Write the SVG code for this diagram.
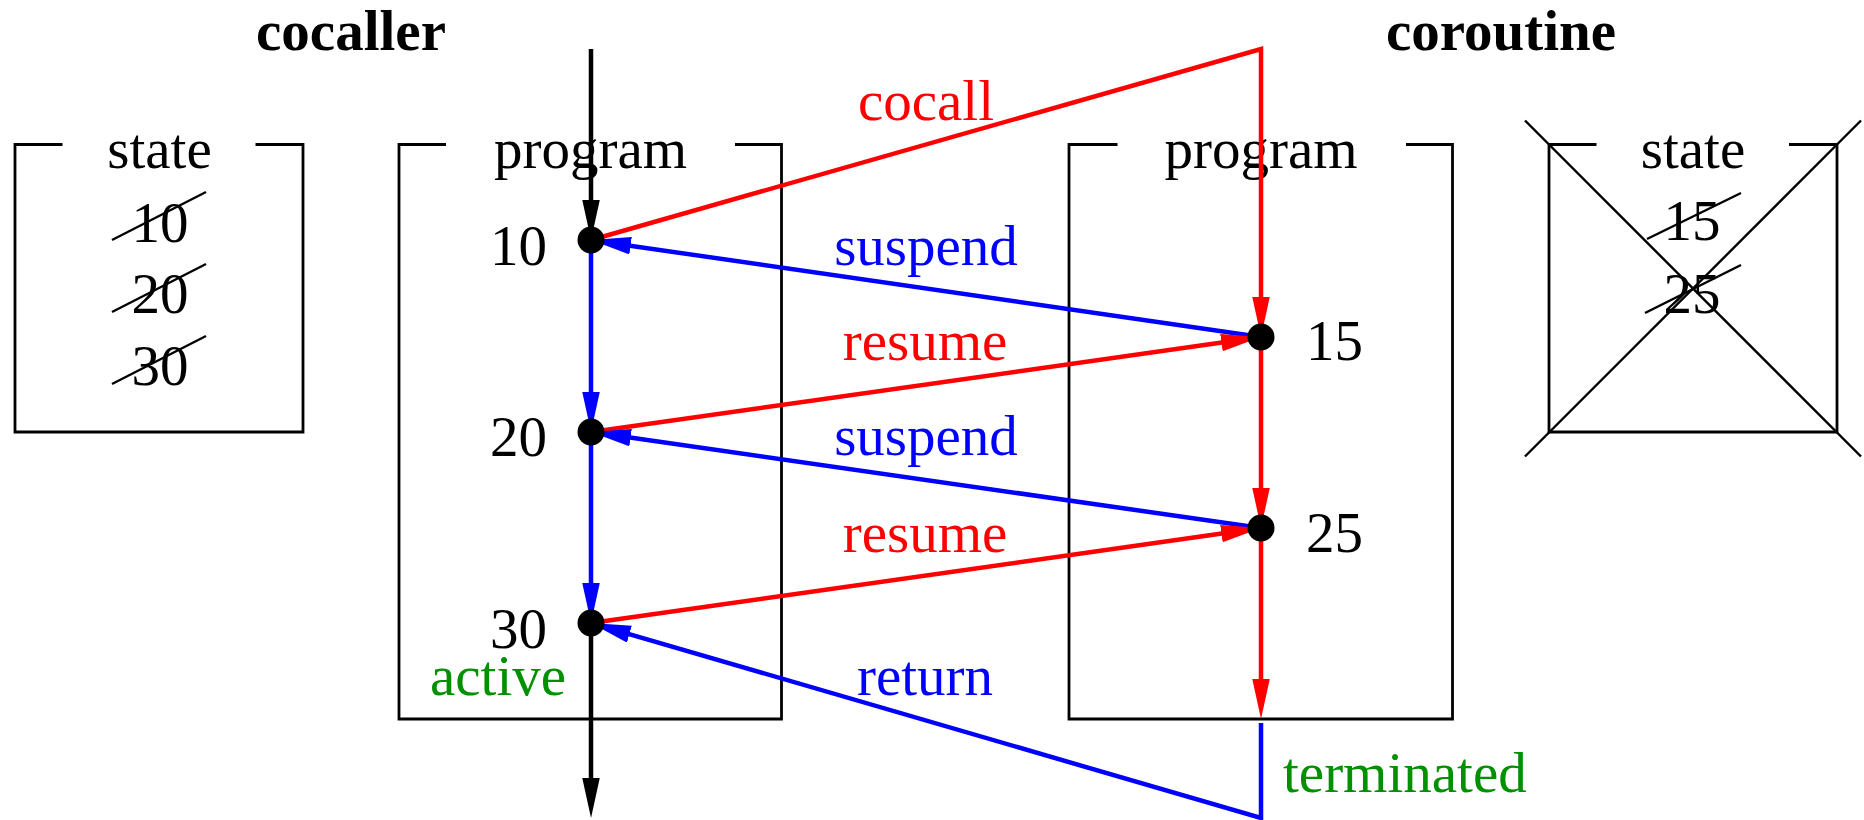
<svg xmlns="http://www.w3.org/2000/svg" width="1864" height="820" viewBox="0 0 1864 820">
<style>
text{font-family:"Liberation Serif","Times New Roman",serif;font-size:57px}
.t{font-weight:bold;text-anchor:middle}
.c{text-anchor:middle}
.e{text-anchor:end}
.box{fill:none;stroke:#000;stroke-width:2.8}
.strike{stroke:#000;stroke-width:2.4}
.k{fill:none;stroke:#000;stroke-width:4.5}
.r{fill:none;stroke:#f00;stroke-width:4.5}
.b{fill:none;stroke:#00f;stroke-width:4.5}
.red{fill:#f00}
.blue{fill:#00f}
.green{fill:#009000}
</style>
<defs>
<marker id="ak" markerUnits="userSpaceOnUse" markerWidth="40" markerHeight="18" refX="20" refY="8.75" orient="auto"><path d="M0,0 L40,8.75 L0,17.5 z" fill="#000"/></marker>
<marker id="ar" markerUnits="userSpaceOnUse" markerWidth="40" markerHeight="18" refX="20" refY="8.75" orient="auto"><path d="M0,0 L40,8.75 L0,17.5 z" fill="#f00"/></marker>
<marker id="ab" markerUnits="userSpaceOnUse" markerWidth="40" markerHeight="18" refX="20" refY="8.75" orient="auto"><path d="M0,0 L40,8.75 L0,17.5 z" fill="#00f"/></marker>
</defs>
<rect width="1864" height="820" fill="#fff"/>
<text class="t" x="351" y="50">cocaller</text>
<text class="t" x="1501" y="50">coroutine</text>
<g id="caller-state">
<path class="box" d="M62.5,144.5 H15 V432 H303 V144.5 H255.5"/>
<text class="c" x="159.5" y="168">state</text>
<text class="c" x="160" y="242">10</text>
<text class="c" x="160" y="313">20</text>
<text class="c" x="160" y="385">30</text>
<line class="strike" x1="112" y1="240" x2="206" y2="192"/>
<line class="strike" x1="112" y1="312" x2="206" y2="264"/>
<line class="strike" x1="112" y1="384" x2="206" y2="336"/>
</g>
<g id="caller-program">
<path class="box" d="M446,144.5 H399 V719 H781.5 V144.5 H735"/>
<text class="c" x="590.5" y="168">program</text>
<text class="e" x="547" y="265">10</text>
<text class="e" x="547" y="456">20</text>
<text class="e" x="547" y="648">30</text>
<text class="c green" x="498" y="695">active</text>
</g>
<g id="coroutine-program">
<path class="box" d="M1117.5,144.5 H1069 V719 H1452.5 V144.5 H1406"/>
<text class="c" x="1261" y="168">program</text>
<text x="1306" y="360">15</text>
<text x="1306" y="552">25</text>
<text class="green" x="1283" y="792">terminated</text>
</g>
<g id="coroutine-state">
<path class="box" d="M1596.5,144.5 H1549 V432 H1837 V144.5 H1789"/>
<text class="c" x="1693" y="168">state</text>
<text class="c" x="1692" y="240">15</text>
<text class="c" x="1692" y="313">25</text>
<line class="strike" x1="1647" y1="239" x2="1741" y2="193"/>
<line class="strike" x1="1645" y1="313" x2="1741" y2="265"/>
<line class="strike" x1="1525" y1="120.5" x2="1861" y2="456.5"/>
<line class="strike" x1="1861" y1="120.5" x2="1525" y2="456.5"/>
</g>
<g id="connectors">
<line class="k" x1="591" y1="49" x2="591" y2="220" marker-end="url(#ak)"/>
<line class="b" x1="591" y1="240" x2="591" y2="412" marker-end="url(#ab)"/>
<line class="b" x1="591" y1="432" x2="591" y2="603" marker-end="url(#ab)"/>
<line class="k" x1="591" y1="623" x2="591" y2="798" marker-end="url(#ak)"/>
<polyline class="r" points="591,240 1261,49 1261,317" marker-end="url(#ar)"/>
<line class="r" x1="1261" y1="337" x2="1261" y2="508" marker-end="url(#ar)"/>
<line class="r" x1="1261" y1="528" x2="1261" y2="699" marker-end="url(#ar)"/>
<line class="b" x1="1261" y1="337" x2="610.8" y2="242.9" marker-end="url(#ab)"/>
<line class="r" x1="591" y1="432" x2="1241.2" y2="339.8" marker-end="url(#ar)"/>
<line class="b" x1="1261" y1="528" x2="610.8" y2="434.8" marker-end="url(#ab)"/>
<line class="r" x1="591" y1="623" x2="1241.2" y2="530.8" marker-end="url(#ar)"/>
<polyline class="b" points="1261,723 1261,818 610.2,628.6" marker-end="url(#ab)"/>
<text class="c red" x="926" y="120">cocall</text>
<text class="c blue" x="926" y="265">suspend</text>
<text class="c red" x="925" y="360">resume</text>
<text class="c blue" x="926" y="455">suspend</text>
<text class="c red" x="925" y="552">resume</text>
<text class="c blue" x="925" y="695">return</text>
</g>
<g id="dots">
<circle cx="591" cy="240" r="13.5"/>
<circle cx="591" cy="432" r="13.5"/>
<circle cx="591" cy="623" r="13.5"/>
<circle cx="1261" cy="337" r="13.5"/>
<circle cx="1261" cy="528" r="13.5"/>
</g>
</svg>
